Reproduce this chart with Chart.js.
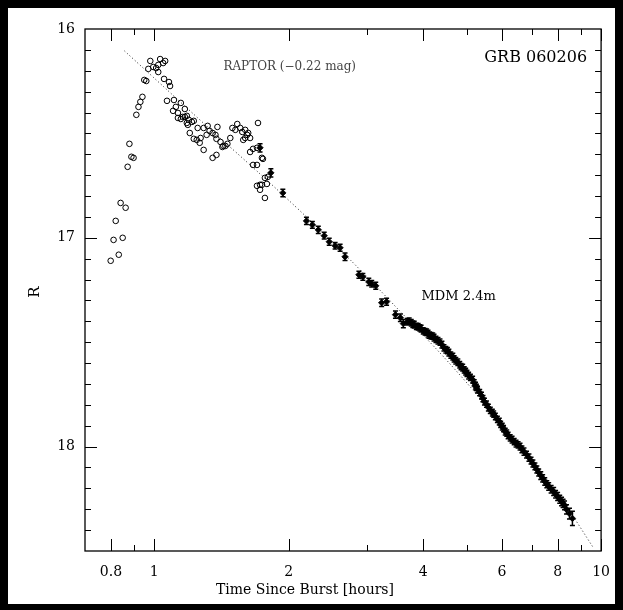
<!DOCTYPE html>
<html><head><meta charset="utf-8">
<script src="https://cdn.jsdelivr.net/npm/chart.js@4.4.0/dist/chart.umd.min.js"></script>
<style>html,body{margin:0;padding:0;background:#000;overflow:hidden}</style>
</head><body>
<canvas id="c" width="623" height="610"></canvas>
<script>
// ---- data ----
const raptorT = [0.799,0.833,0.811,0.850,0.820,0.841,0.863,0.872,0.889,0.899,0.880,0.912,0.922,0.931,0.941,0.950,0.960,
0.980,0.970,0.995,1.010,1.021,1.021,1.031,1.047,1.058,
1.052,1.079,1.085,
1.068,1.107,1.118,1.147,1.102,1.130,1.171,1.171,
1.130,1.147,1.159,1.183,1.195,1.214,1.226,1.183,1.189,
1.201,1.226,1.245,1.270,1.264,1.290,1.251,1.290,1.317,1.330,
1.351,1.378,
1.310,1.351,1.371,1.385,1.378,1.407,1.428,1.421,1.443,1.458,
1.480,1.496,1.519,1.534,1.558,1.574,1.598,1.614,1.598,1.639,1.623,1.582,
1.707,
1.639,1.664,1.698,1.742,1.751,1.664,1.698,
1.769,1.742,1.787,1.796,1.725,1.698,1.725,1.769];
const raptorR = [17.110,17.081,17.010,17.000,16.919,16.833,16.856,16.660,16.612,16.617,16.550,16.411,16.373,16.349,16.325,16.244,16.249,
16.153,16.191,16.182,16.187,16.206,16.172,16.144,16.163,16.153,
16.239,16.254,16.273,
16.344,16.340,16.373,16.354,16.392,16.402,16.383,16.421,
16.426,16.431,16.421,16.416,16.435,16.445,16.440,16.450,16.459,
16.498,16.526,16.531,16.522,16.545,16.579,16.474,16.474,16.464,16.488,
16.617,16.603,
16.507,16.498,16.507,16.469,16.526,16.541,16.560,16.565,16.560,16.550,
16.522,16.474,16.483,16.455,16.474,16.493,16.483,16.507,16.522,16.522,16.498,16.531,
16.450,
16.589,16.574,16.569,16.617,16.622,16.651,16.651,
16.713,16.746,16.742,16.708,16.746,16.751,16.770,16.809];

const mdmT = [1.725,1.824,1.940,2.191,2.259,2.329,2.401,2.464,2.540,2.606,2.673,2.871,2.930,3.021,3.067,3.131,3.228,3.311,3.466,3.555,3.610,
3.684,3.72,3.760,3.79,3.818,3.86,3.896,3.93,3.956,4.00,4.037,4.07,4.100,4.13,4.163,4.20,4.228,4.27,4.315,4.36,4.404,4.45,4.494,4.53,4.564,4.61,4.658,4.69,4.730,4.78,4.827,4.86,4.901,4.94,4.977,5.01,5.053,5.10,5.158,5.20,5.236,5.26,5.290,5.35,5.400,5.44,5.483,5.54,5.595,5.65,5.710,5.75,5.799,5.86,5.918,5.96,6.009,6.05,6.101,6.15,6.194,6.26,6.322,6.39,6.452,6.52,6.586,6.65,6.721,6.81,6.895,6.97,7.037,7.11,7.181,7.25,7.328,7.40,7.480,7.56,7.633,7.73,7.831,7.91,7.993,8.08,8.157,8.22,8.283,8.368,8.497,8.627];
const mdmR = [16.569,16.689,16.785,16.919,16.938,16.962,16.990,17.019,17.038,17.048,17.091,17.177,17.187,17.211,17.220,17.230,17.311,17.306,17.368,17.383,17.411,
17.402,17.399,17.407,17.414,17.416,17.424,17.426,17.431,17.435,17.446,17.450,17.452,17.459,17.466,17.469,17.471,17.478,17.487,17.493,17.500,17.512,17.527,17.536,17.540,17.550,17.562,17.569,17.580,17.589,17.596,17.608,17.617,17.622,17.633,17.641,17.649,17.660,17.668,17.679,17.695,17.708,17.716,17.727,17.741,17.756,17.770,17.785,17.797,17.813,17.826,17.837,17.845,17.856,17.870,17.880,17.893,17.904,17.914,17.928,17.936,17.947,17.958,17.967,17.976,17.986,17.992,18.000,18.013,18.024,18.038,18.053,18.067,18.081,18.095,18.110,18.124,18.139,18.152,18.167,18.180,18.191,18.204,18.215,18.228,18.239,18.252,18.263,18.272,18.282,18.301,18.321,18.344];
const mdmErr = [0.020,0.020,0.018,0.017,0.016,0.017,0.016,0.017,0.016,0.017,0.018,0.017,0.016,0.017,0.016,0.017,0.018,0.017,0.017,0.018,0.020,
0.016,0.015,0.016,0.015,0.016,0.015,0.016,0.015,0.016,0.015,0.016,0.015,0.016,0.015,0.016,0.015,0.016,0.015,0.016,0.015,0.016,0.015,0.016,0.015,0.016,0.015,0.016,0.015,0.016,0.015,0.016,0.015,0.016,0.015,0.016,0.015,0.016,0.015,0.016,0.015,0.016,0.015,0.016,0.015,0.016,0.015,0.016,0.015,0.016,0.015,0.016,0.015,0.016,0.015,0.016,0.015,0.016,0.015,0.016,0.015,0.016,0.015,0.016,0.015,0.016,0.015,0.016,0.016,0.017,0.016,0.017,0.016,0.017,0.016,0.017,0.017,0.018,0.017,0.018,0.017,0.018,0.018,0.019,0.018,0.019,0.019,0.020,0.020,0.021,0.022,0.026,0.034];

const fitT = [0.858,1.063,1.317,1.725,2.191,2.729,3.131,3.520,4.315,5.026,6.007,7.181,8.368,9.600];
const fitR = [16.105,16.287,16.469,16.694,16.900,17.100,17.230,17.344,17.541,17.699,17.895,18.096,18.287,18.483];

const xMajorTicks = [0.8, 1, 2, 4, 6, 8, 10];
const xMinorTicks = [0.9, 3, 5, 7, 9];
const yMajorTicks = [16, 17, 18];
const yMinorStep = 0.1;

const xTitle = 'Time Since Burst [hours]';
const yTitle = 'R';
const labelGRB = 'GRB 060206';
const labelRaptor = 'RAPTOR (\u22120.22 mag)';
const labelMDM = 'MDM 2.4m';

const FONT = '"DejaVu Serif", "Liberation Serif", serif';

const deco = {
  id: 'deco',
  beforeDraw(chart) {
    const c = chart.ctx;
    c.save();
    c.fillStyle = '#000'; c.fillRect(0, 0, chart.width, chart.height);
    c.fillStyle = '#fff'; c.fillRect(8, 8, 607, 596);
    c.restore();
  },
  afterDatasetsDraw(chart) {
    const { ctx, chartArea: a, scales: { x, y } } = chart;
    ctx.save();
    ctx.beginPath(); ctx.rect(a.left, a.top, a.right - a.left, a.bottom - a.top); ctx.clip();
    ctx.strokeStyle = '#000'; ctx.lineWidth = 1.5;
    mdmT.forEach((t, i) => {
      const px = x.getPixelForValue(t);
      const y1 = y.getPixelForValue(mdmR[i] - mdmErr[i]);
      const y2 = y.getPixelForValue(mdmR[i] + mdmErr[i]);
      ctx.beginPath();
      ctx.moveTo(px, y1); ctx.lineTo(px, y2);
      ctx.moveTo(px - 2.5, y1); ctx.lineTo(px + 2.5, y1);
      ctx.moveTo(px - 2.5, y2); ctx.lineTo(px + 2.5, y2);
      ctx.stroke();
    });
    ctx.restore();
  },
  afterDraw(chart) {
    const { ctx, chartArea: a, scales: { x, y } } = chart;
    ctx.save();
    ctx.strokeStyle = '#000'; ctx.lineWidth = 1.3;
    ctx.strokeRect(a.left, a.top, a.right - a.left, a.bottom - a.top);
    ctx.lineWidth = 1;
    const MAJ = 12, MIN = 6;
    ctx.beginPath();
    const xt = (v, L) => { const p = Math.round(x.getPixelForValue(v)) + 0.5; ctx.moveTo(p, a.bottom); ctx.lineTo(p, a.bottom - L); ctx.moveTo(p, a.top); ctx.lineTo(p, a.top + L); };
    xMajorTicks.forEach(v => xt(v, MAJ));
    xMinorTicks.forEach(v => xt(v, MIN));
    const yt = (v, L) => { const p = Math.round(y.getPixelForValue(v)) + 0.5; ctx.moveTo(a.left, p); ctx.lineTo(a.left + L, p); ctx.moveTo(a.right, p); ctx.lineTo(a.right - L, p); };
    for (let v = y.min + yMinorStep; v < y.max - 1e-6; v += yMinorStep) {
      const isMaj = yMajorTicks.some(m => Math.abs(m - v) < 1e-6);
      yt(v, isMaj ? MAJ : MIN);
    }
    ctx.stroke();

    ctx.fillStyle = '#000';
    ctx.textBaseline = 'middle';
    ctx.font = '14px ' + FONT;
    ctx.textAlign = 'center';
    ctx.fillText(xTitle, 305, 590);
    ctx.save();
    ctx.translate(35, 292); ctx.rotate(-Math.PI / 2);
    ctx.font = '15px ' + FONT;
    ctx.fillText(yTitle, 0, 0);
    ctx.restore();

    ctx.font = '16px ' + FONT;
    ctx.textAlign = 'right';
    ctx.fillText(labelGRB, a.right - 14, y.getPixelForValue(16.139));
    ctx.font = '12px ' + FONT;
    ctx.textAlign = 'center';
    ctx.fillStyle = '#444';
    ctx.fillText(labelRaptor, x.getPixelForValue(2.01), y.getPixelForValue(16.18));
    ctx.fillStyle = '#000';
    ctx.font = '13px ' + FONT;
    ctx.fillText(labelMDM, x.getPixelForValue(4.80), y.getPixelForValue(17.282));
    ctx.restore();
  }
};

const toPts = (xs, ys) => xs.map((v, i) => ({ x: v, y: ys[i] }));

new Chart(document.getElementById('c'), {
  type: 'scatter',
  data: {
    datasets: [
      { label: 'fit', type: 'line', data: toPts(fitT, fitR), borderColor: '#222', borderWidth: 1, borderDash: [1, 2.5], pointRadius: 0, fill: false, tension: 0.3 },
      { label: 'RAPTOR', data: toPts(raptorT, raptorR), pointStyle: 'circle', radius: 2.8, borderColor: '#000', borderWidth: 1, backgroundColor: 'rgba(255,255,255,0)' },
      { label: 'MDM', data: toPts(mdmT, mdmR), pointStyle: 'rectRot', radius: 3.2, borderColor: '#000', borderWidth: 0.8, backgroundColor: '#000' }
    ]
  },
  options: {
    responsive: false,
    animation: false,
    events: [],
    layout: { padding: { left: 0, top: 29, right: 18, bottom: 0 } },
    plugins: { legend: { display: false }, tooltip: { enabled: false } },
    scales: {
      x: {
        type: 'logarithmic', min: 0.707, max: 10,
        grid: { display: false, drawTicks: false }, border: { display: false },
        afterBuildTicks: s => { s.ticks = xMajorTicks.map(v => ({ value: v })); },
        afterFit: s => { s.height = 59; },
        ticks: { autoSkip: false, maxRotation: 0, padding: 13, color: '#000', font: { family: FONT, size: 14 }, callback: v => String(v) }
      },
      y: {
        type: 'linear', reverse: true, min: 16, max: 18.5,
        grid: { display: false, drawTicks: false }, border: { display: false },
        afterBuildTicks: s => { s.ticks = yMajorTicks.map(v => ({ value: v })); },
        afterFit: s => { s.width = 85; },
        ticks: { padding: 10, color: '#000', font: { family: FONT, size: 14 }, callback: v => String(v) }
      }
    }
  },
  plugins: [deco]
});
</script>
</body></html>
